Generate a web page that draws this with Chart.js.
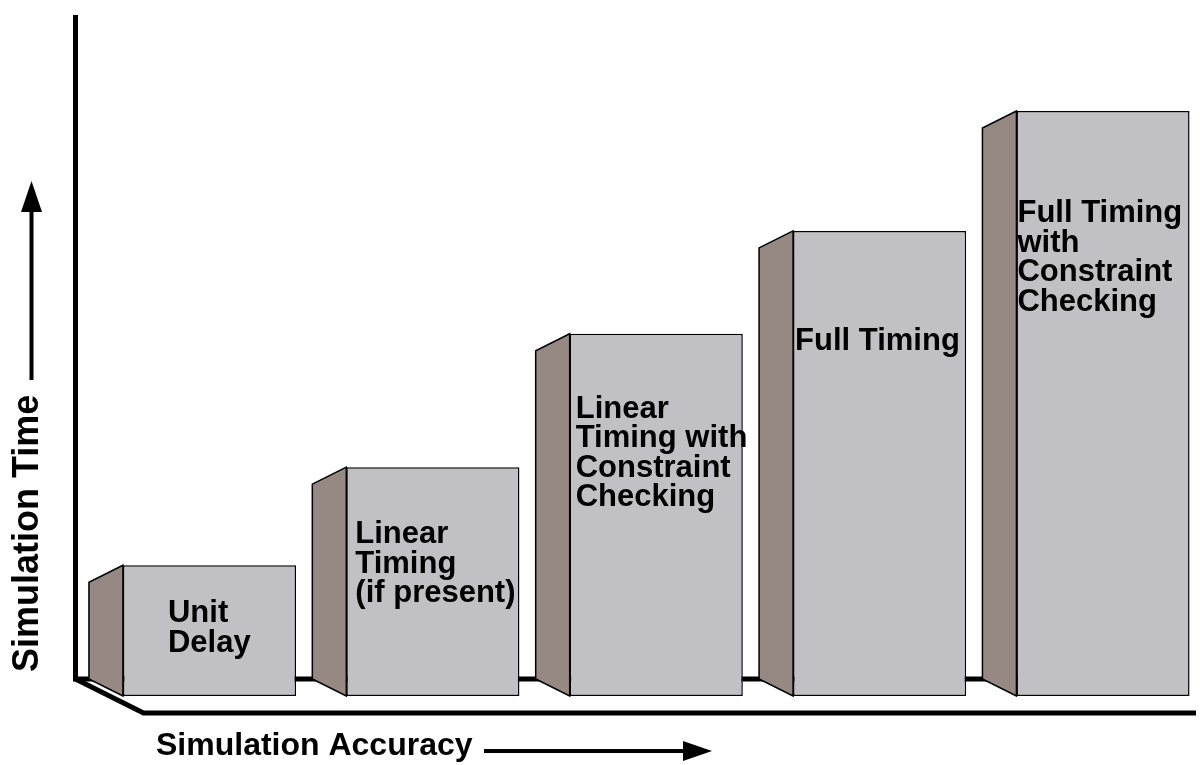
<!DOCTYPE html>
<html><head><meta charset="utf-8">
<script src="https://cdn.jsdelivr.net/npm/chart.js@4.4.1/dist/chart.umd.min.js"></script>
<style>html,body{margin:0;padding:0;background:#fff;} #wrap{width:1200px;height:765px;position:relative;}</style>
</head><body><div id="wrap"><canvas id="c" width="1200" height="765"></canvas></div>
<script>
// ---- data ----
const categories = ['Unit Delay', 'Linear Timing (if present)', 'Linear Timing with Constraint Checking', 'Full Timing', 'Full Timing with Constraint Checking'];
const labelLines = [['Unit', 'Delay'], ['Linear', 'Timing', '(if present)'], ['Linear', 'Timing with', 'Constraint', 'Checking'], ['Full Timing'], ['Full Timing', 'with', 'Constraint', 'Checking']];
const simulationTime = [19.2, 33.6, 53.2, 68.3, 85.9];
const yAxisTitle = 'Simulation Time';
const xAxisTitle = 'Simulation Accuracy';

// ---- layout (not data) ----
const labelOffsets = [[45, 57], [9, 76], [6, 84], [2, 119], [1, 111]];
const FRONT = '#c1c0c5', SIDE = '#968984';
const depthX = 34, depthY = 17;
const FONT = 'bold 31px "Liberation Sans", Arial, Helvetica, sans-serif';

const pseudo3d = {
  id: 'pseudo3d',
  beforeDatasetsDraw(chart) {
    const ctx = chart.ctx;
    const base = chart.scales.y.getPixelForValue(0);
    const axisX = 75.5;
    ctx.save();
    ctx.strokeStyle = '#000';
    ctx.lineJoin = 'miter';
    ctx.lineWidth = 5;
    ctx.beginPath();
    ctx.moveTo(axisX, 15);
    ctx.lineTo(axisX, base - depthY);
    ctx.lineTo(1185, base - depthY);
    ctx.stroke();
    ctx.beginPath();
    ctx.moveTo(axisX, base - depthY);
    ctx.lineTo(axisX + 2 * depthX, base + depthY);
    ctx.lineTo(1196, base + depthY);
    ctx.stroke();
    const meta = chart.getDatasetMeta(0);
    meta.data.forEach(bar => {
      const p = bar.getProps(['x', 'y', 'base', 'width'], true);
      const L = p.x - p.width / 2;
      ctx.beginPath();
      ctx.moveTo(L, p.y);
      ctx.lineTo(L - depthX, p.y + depthY);
      ctx.lineTo(L - depthX, p.base - depthY);
      ctx.lineTo(L, p.base);
      ctx.closePath();
      ctx.fillStyle = SIDE;
      ctx.fill();
      ctx.lineWidth = 1.5;
      ctx.stroke();
    });
    ctx.restore();
  },
  afterDatasetsDraw(chart) {
    const ctx = chart.ctx;
    const meta = chart.getDatasetMeta(0);
    ctx.save();
    ctx.fillStyle = '#000';
    ctx.font = FONT;
    ctx.textAlign = 'left';
    ctx.textBaseline = 'alphabetic';
    meta.data.forEach((bar, i) => {
      const p = bar.getProps(['x', 'y', 'width'], true);
      const L = p.x - p.width / 2;
      labelLines[i].forEach((t, j) => {
        ctx.fillText(t, L + labelOffsets[i][0], p.y + labelOffsets[i][1] + j * 29.5);
      });
    });
    ctx.restore();
  },
  afterDraw(chart) {
    const ctx = chart.ctx;
    ctx.save();
    ctx.fillStyle = '#000';
    ctx.strokeStyle = '#000';
    // x title
    ctx.font = 'bold 32px "Liberation Sans", Arial, Helvetica, sans-serif';
    ctx.textAlign = 'left';
    ctx.textBaseline = 'alphabetic';
    ctx.fillText(xAxisTitle, 156, 755);
    ctx.lineWidth = 4;
    ctx.beginPath(); ctx.moveTo(484, 751); ctx.lineTo(686, 751); ctx.stroke();
    ctx.beginPath(); ctx.moveTo(712, 751); ctx.lineTo(683, 741); ctx.lineTo(683, 761); ctx.closePath(); ctx.fill();
    // y title
    ctx.save();
    ctx.translate(38, 672);
    ctx.rotate(-Math.PI / 2);
    ctx.font = 'bold 36px "Liberation Sans", Arial, Helvetica, sans-serif';
    ctx.fillText(yAxisTitle, 0, 0);
    ctx.restore();
    ctx.beginPath(); ctx.moveTo(31.5, 380); ctx.lineTo(31.5, 208); ctx.stroke();
    ctx.beginPath(); ctx.moveTo(31.5, 181); ctx.lineTo(21, 212); ctx.lineTo(42, 212); ctx.closePath(); ctx.fill();
    ctx.restore();
  }
};

new Chart(document.getElementById('c'), {
  type: 'bar',
  data: {
    labels: categories,
    datasets: [{
      label: yAxisTitle,
      data: simulationTime,
      backgroundColor: FRONT,
      borderColor: '#000',
      borderWidth: 1.5,
      borderSkipped: false,
      categoryPercentage: 1,
      barPercentage: 0.775,
      clip: false
    }]
  },
  options: {
    responsive: false,
    animation: false,
    layout: { padding: { left: 209.5, right: 97, top: 15, bottom: 69 } },
    plugins: { legend: { display: false }, tooltip: { enabled: false }, title: { display: false } },
    scales: {
      x: { display: false, offset: false },
      y: { display: false, min: 0, max: 100 }
    }
  },
  plugins: [pseudo3d]
});
</script>
</body></html>
